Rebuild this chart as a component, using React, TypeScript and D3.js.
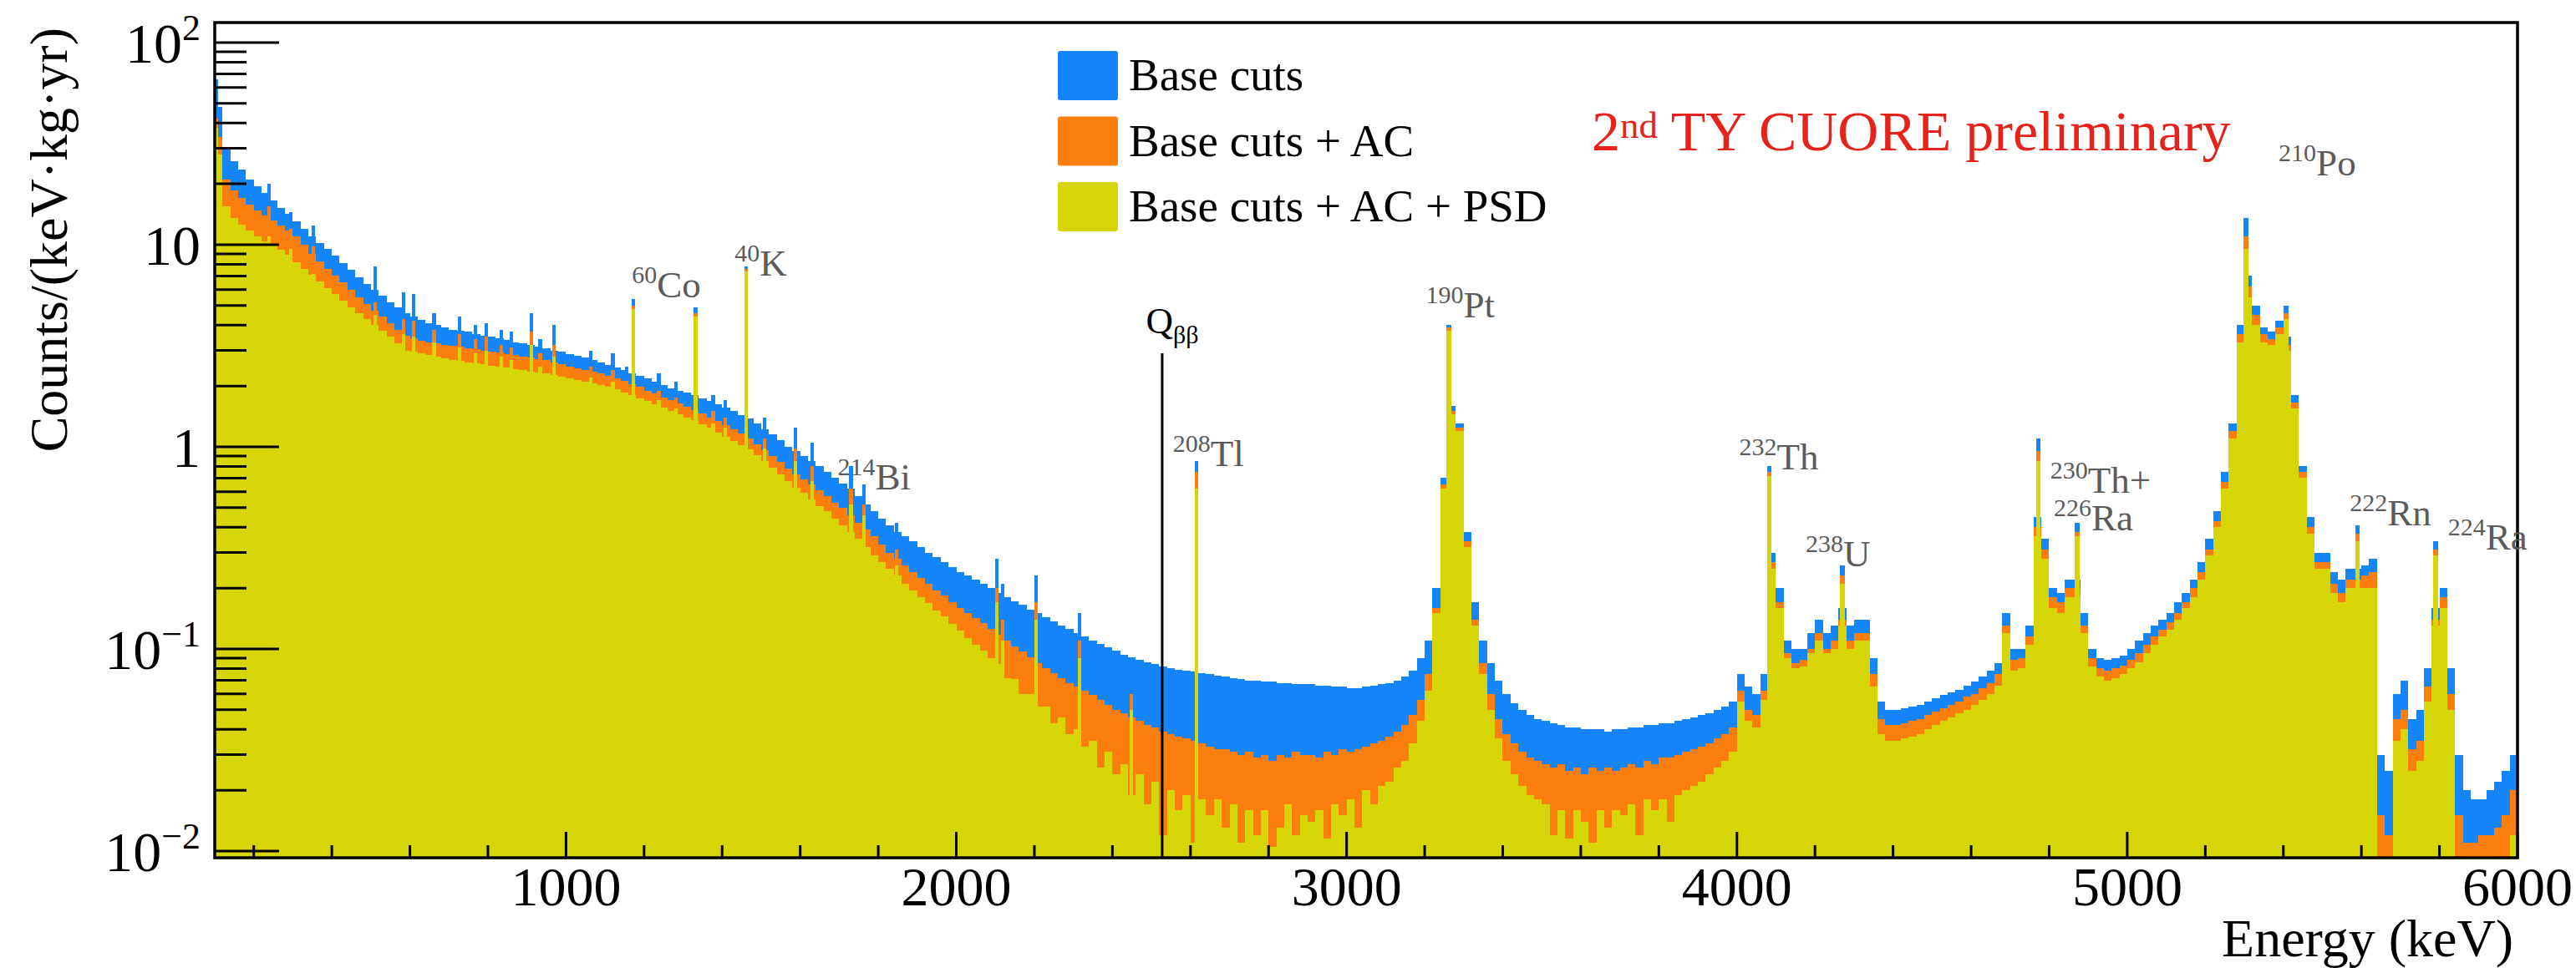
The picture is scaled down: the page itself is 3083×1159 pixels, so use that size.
import React, { useEffect } from 'react';
import * as d3 from 'd3';

const W = 3083;
const H = 1159;
const FONT = '"Liberation Serif", "Times New Roman", serif';

// Histogram binning (keV)
const BIN_LO = 100;
const BIN_WIDTH = 20;

// Counts/(keV kg yr), 20 keV bins from 100 keV to 6000 keV
const BASE_CUTS = [
  48, 30, 26, 23.5, 21, 19.5, 18, 16.5, 15.2, 14.2,
  13.0, 12.0, 11.0, 10.2, 9.5, 8.8, 8.1, 7.5, 6.9, 6.4,
  6.0, 5.6, 5.2, 4.9, 4.6, 4.4, 4.25, 4.1, 4.0, 3.9,
  3.8, 3.75, 3.7, 3.62, 3.55, 3.5, 3.45, 3.38, 3.3, 3.25,
  3.2, 3.14, 3.08, 3.0, 2.95, 2.88, 2.82, 2.76, 2.7, 2.62,
  2.55, 2.48, 2.4, 2.32, 2.25, 2.18, 2.1, 2.02, 1.95, 1.9,
  1.85, 1.8, 1.74, 1.68, 1.62, 1.56, 1.5, 1.44, 1.38, 1.3,
  1.22, 1.15, 1.08, 1.0, 0.95, 0.9, 0.85, 0.8, 0.75, 0.7,
  0.66, 0.62, 0.57, 0.52, 0.48, 0.44, 0.41, 0.38, 0.36, 0.34,
  0.32, 0.3, 0.285, 0.27, 0.255, 0.24, 0.23, 0.22, 0.21, 0.2,
  0.19, 0.18, 0.172, 0.165, 0.157, 0.15, 0.143, 0.137, 0.131, 0.126,
  0.12, 0.115, 0.11, 0.106, 0.102, 0.098, 0.094, 0.091, 0.088, 0.086,
  0.084, 0.082, 0.08, 0.079, 0.078, 0.077, 0.076, 0.075, 0.074, 0.073,
  0.072, 0.071, 0.07, 0.07, 0.069, 0.069, 0.068, 0.068, 0.067, 0.067,
  0.067, 0.066, 0.066, 0.065, 0.065, 0.064, 0.064, 0.065, 0.066, 0.067,
  0.068, 0.07, 0.073, 0.078, 0.09, 0.11, 0.2, 0.7, 1.6, 1.3,
  0.38, 0.17, 0.11, 0.085, 0.07, 0.06, 0.054, 0.05, 0.047, 0.045,
  0.044, 0.043, 0.042, 0.041, 0.041, 0.04, 0.04, 0.04, 0.039, 0.04,
  0.04, 0.041, 0.041, 0.042, 0.042, 0.043, 0.043, 0.044, 0.045, 0.046,
  0.047, 0.048, 0.05, 0.052, 0.055, 0.075, 0.065, 0.06, 0.075, 0.3,
  0.2, 0.11, 0.1, 0.1, 0.12, 0.14, 0.12, 0.13, 0.16, 0.13,
  0.14, 0.14, 0.09, 0.055, 0.05, 0.05, 0.051, 0.052, 0.053, 0.055,
  0.057, 0.059, 0.061, 0.063, 0.066, 0.069, 0.073, 0.078, 0.085, 0.15,
  0.1, 0.1, 0.13, 0.45, 0.35, 0.2, 0.19, 0.22, 0.22, 0.15,
  0.1, 0.09, 0.088, 0.09, 0.093, 0.1, 0.11, 0.12, 0.13, 0.14,
  0.15, 0.17, 0.19, 0.22, 0.27, 0.35, 0.48, 0.75, 1.3, 4.0,
  7.0, 5.0, 3.9, 3.7, 4.2, 3.5, 1.8, 0.8, 0.45, 0.3,
  0.3, 0.24, 0.22, 0.25, 0.25, 0.26, 0.28, 0.03, 0.025, 0.06,
  0.07, 0.045, 0.05, 0.08, 0.16, 0.2, 0.08, 0.03, 0.02, 0.018,
  0.018, 0.02, 0.022, 0.025, 0.03,
];

const BASE_CUTS_AC = [
  34, 21, 18.5, 17, 15.8, 14.8, 14, 13.2, 12.4, 11.7,
  11.0, 10.0, 9.0, 8.3, 7.6, 7.0, 6.5, 6.0, 5.5, 5.1,
  4.7, 4.4, 4.1, 3.8, 3.55, 3.45, 3.35, 3.3, 3.25, 3.2,
  3.15, 3.12, 3.08, 3.05, 3.0, 2.96, 2.92, 2.88, 2.84, 2.8,
  2.76, 2.72, 2.68, 2.62, 2.56, 2.5, 2.45, 2.4, 2.36, 2.3,
  2.24, 2.18, 2.12, 2.05, 1.98, 1.9, 1.83, 1.76, 1.7, 1.64,
  1.58, 1.52, 1.46, 1.4, 1.34, 1.28, 1.22, 1.16, 1.1, 1.03,
  0.96, 0.9, 0.84, 0.78, 0.73, 0.69, 0.65, 0.61, 0.57, 0.53,
  0.5, 0.46, 0.42, 0.39, 0.36, 0.33, 0.3, 0.28, 0.26, 0.24,
  0.225, 0.21, 0.195, 0.183, 0.17, 0.16, 0.15, 0.142, 0.134, 0.126,
  0.118, 0.11, 0.103, 0.097, 0.091, 0.085, 0.08, 0.076, 0.072, 0.068,
  0.065, 0.062, 0.059, 0.056, 0.053, 0.05, 0.048, 0.046, 0.044, 0.042,
  0.041, 0.039, 0.038, 0.037, 0.036, 0.035, 0.034, 0.033, 0.032, 0.032,
  0.031, 0.03, 0.031, 0.029, 0.03, 0.028, 0.03, 0.029, 0.031, 0.03,
  0.03, 0.029, 0.031, 0.03, 0.032, 0.031, 0.032, 0.033, 0.034, 0.035,
  0.037, 0.039, 0.042, 0.047, 0.056, 0.075, 0.16, 0.65, 1.5, 1.25,
  0.34, 0.14, 0.085, 0.06, 0.045, 0.038, 0.034, 0.031, 0.029, 0.028,
  0.027, 0.026, 0.027, 0.025, 0.026, 0.024, 0.026, 0.025, 0.026, 0.025,
  0.026, 0.027, 0.026, 0.028, 0.027, 0.029, 0.029, 0.03, 0.031, 0.032,
  0.033, 0.034, 0.036, 0.038, 0.041, 0.062, 0.05, 0.047, 0.062, 0.27,
  0.17, 0.095, 0.085, 0.088, 0.1, 0.12, 0.1, 0.11, 0.14, 0.11,
  0.12, 0.12, 0.075, 0.045, 0.042, 0.042, 0.043, 0.044, 0.045, 0.047,
  0.049, 0.051, 0.053, 0.055, 0.058, 0.06, 0.064, 0.068, 0.075, 0.13,
  0.088, 0.09, 0.115, 0.4, 0.31, 0.18, 0.17, 0.2, 0.2, 0.13,
  0.09, 0.08, 0.078, 0.08, 0.083, 0.088, 0.095, 0.105, 0.115, 0.125,
  0.135, 0.15, 0.17, 0.2, 0.24, 0.31, 0.43, 0.67, 1.2, 3.6,
  6.2, 4.5, 3.6, 3.4, 3.9, 3.2, 1.65, 0.75, 0.4, 0.27,
  0.27, 0.21, 0.19, 0.22, 0.22, 0.23, 0.24, 0.015, 0.012, 0.045,
  0.05, 0.032, 0.035, 0.065, 0.14, 0.18, 0.06, 0.015, 0.011, 0.011,
  0.012, 0.012, 0.013, 0.015, 0.02,
];

const BASE_CUTS_AC_PSD = [
  28, 15.5, 13.6, 12.6, 11.8, 11, 10.4, 9.9, 9.4, 8.9,
  8.2, 7.6, 7.1, 6.6, 6.1, 5.7, 5.3, 4.9, 4.6, 4.3,
  4.0, 3.75, 3.5, 3.25, 3.0, 2.95, 2.9, 2.85, 2.8, 2.75,
  2.7, 2.66, 2.62, 2.6, 2.56, 2.52, 2.5, 2.46, 2.43, 2.4,
  2.36, 2.33, 2.3, 2.26, 2.22, 2.18, 2.14, 2.1, 2.06, 2.02,
  1.98, 1.92, 1.86, 1.8, 1.74, 1.68, 1.62, 1.56, 1.5, 1.45,
  1.4, 1.35, 1.29, 1.24, 1.18, 1.12, 1.07, 1.02, 0.97, 0.91,
  0.85, 0.79, 0.73, 0.68, 0.63, 0.59, 0.55, 0.51, 0.48, 0.44,
  0.41, 0.38, 0.35, 0.32, 0.29, 0.27, 0.25, 0.23, 0.21, 0.195,
  0.18, 0.168, 0.155, 0.145, 0.133, 0.123, 0.113, 0.105, 0.098, 0.09,
  0.084, 0.072, 0.071, 0.06, 0.06, 0.052, 0.052, 0.043, 0.046, 0.038,
  0.04, 0.033, 0.035, 0.026, 0.031, 0.024, 0.027, 0.019, 0.024, 0.017,
  0.022, 0.012, 0.02, 0.016, 0.019, 0.011, 0.018, 0.015, 0.018, 0.013,
  0.017, 0.011, 0.016, 0.012, 0.016, 0.0105, 0.013, 0.017, 0.012, 0.015,
  0.014, 0.016, 0.0115, 0.017, 0.015, 0.018, 0.013, 0.02, 0.017, 0.021,
  0.022, 0.026, 0.028, 0.034, 0.044, 0.062, 0.15, 0.62, 1.45, 1.2,
  0.32, 0.13, 0.075, 0.05, 0.036, 0.028, 0.024, 0.021, 0.019, 0.018,
  0.017, 0.012, 0.016, 0.0115, 0.016, 0.014, 0.011, 0.016, 0.013, 0.016,
  0.015, 0.017, 0.012, 0.018, 0.016, 0.018, 0.014, 0.019, 0.02, 0.021,
  0.022, 0.024, 0.026, 0.028, 0.031, 0.055, 0.044, 0.041, 0.056, 0.25,
  0.16, 0.09, 0.08, 0.082, 0.095, 0.11, 0.095, 0.1, 0.13, 0.1,
  0.11, 0.11, 0.065, 0.038, 0.035, 0.035, 0.036, 0.037, 0.038, 0.04,
  0.042, 0.044, 0.046, 0.048, 0.05, 0.053, 0.056, 0.06, 0.066, 0.12,
  0.078, 0.08, 0.105, 0.36, 0.28, 0.16, 0.15, 0.18, 0.18, 0.12,
  0.082, 0.073, 0.07, 0.072, 0.075, 0.08, 0.086, 0.095, 0.105, 0.115,
  0.125, 0.14, 0.16, 0.18, 0.22, 0.29, 0.4, 0.62, 1.1, 3.3,
  5.5, 4.0, 3.3, 3.2, 3.6, 3.0, 1.55, 0.7, 0.37, 0.25,
  0.25, 0.19, 0.17, 0.2, 0.2, 0.2, 0.2, 0, 0.006, 0.035,
  0.04, 0.025, 0.028, 0.055, 0.13, 0.16, 0.05, 0, 0, 0,
  0, 0, 0, 0, 0.012,
];

// Narrow lines (gamma and alpha peaks): energy (keV), peak height per selection, width (keV)
const LINE_ENERGY = [104, 239, 295, 352, 511, 583, 609, 662, 727, 768, 795, 835, 860, 911, 934, 969, 1063, 1120, 1155, 1173, 1238, 1281, 1332, 1377, 1408, 1461, 1509, 1588, 1630, 1730, 1764, 1847, 2103, 2118, 2204, 2315, 2448, 2615, 3262, 4083, 4270, 4772, 4872, 5304, 5407, 5590, 5790];
const LINE_BASE = [66, 20, 14.5, 12.5, 7.8, 5.8, 5.7, 4.6, 4.4, 4.0, 4.1, 3.8, 3.7, 4.6, 3.4, 4.0, 3.0, 2.9, 2.5, 5.4, 2.3, 2.1, 4.9, 1.8, 1.7, 7.8, 1.4, 1.25, 1.05, 0.8, 0.65, 0.42, 0.28, 0.21, 0.23, 0.15, 0.085, 0.85, 4.0, 0.8, 0.26, 1.1, 0.42, 13.5, 5.0, 0.41, 0.34];
const LINE_AC = [42, 15.5, 12, 9.8, 5.2, 4.3, 4.2, 3.8, 3.6, 3.4, 3.5, 3.2, 3.1, 3.7, 2.9, 3.2, 2.5, 2.4, 2.1, 5.0, 1.9, 1.75, 4.6, 1.5, 1.4, 7.6, 1.1, 0.98, 0.8, 0.62, 0.52, 0.31, 0.2, 0.14, 0.17, 0.11, 0.06, 0.75, 3.9, 0.75, 0.23, 0.95, 0.38, 11, 4.6, 0.37, 0.31];
const LINE_PSD = [38, 11, 9.5, 7.2, 4.5, 3.6, 3.5, 3.3, 3.1, 2.9, 3.0, 2.8, 2.7, 3.2, 2.5, 2.8, 2.2, 2.1, 1.85, 4.8, 1.7, 1.55, 4.4, 1.3, 1.25, 7.4, 0.98, 0.85, 0.68, 0.52, 0.46, 0.26, 0.17, 0.11, 0.14, 0.09, 0.05, 0.62, 3.75, 0.72, 0.21, 0.85, 0.36, 9.5, 4.3, 0.34, 0.29];
const LINE_WIDTH = [8, 9, 9, 9, 9, 9, 9, 9, 9, 9, 9, 9, 9, 9, 9, 9, 9, 9, 9, 9, 9, 9, 9, 9, 9, 9, 9, 9, 9, 9, 9, 9, 9, 9, 9, 9, 9, 9, 12, 12, 12, 12, 12, 12, 12, 12, 12];

const SERIES_NAMES = ['Base cuts', 'Base cuts + AC', 'Base cuts + AC + PSD'];
const SERIES_COLORS = ['#1585fc', '#fc7e0c', '#d5d508'];

const X_DOMAIN = [100, 6000];
const Y_DOMAIN = [0.00927, 125.6];
const X_MAJOR = [1000, 2000, 3000, 4000, 5000, 6000];
const Y_MAJOR = [0.01, 0.1, 1, 10, 100];
const Y_MAJOR_BASE = ['10', '10', '1', '10', '10'];
const Y_MAJOR_EXP = ['\u22122', '\u22121', '', '', '2'];

const Q_BB = 2527.5;
const Q_BB_TOP = 2.9;

// Peak labels anchored in data coordinates (keV, counts)
const PEAK_LABEL_SUP = ['60', '40', '214', '208', '190', '232', '238', '230', '226', '210', '222', '224'];
const PEAK_LABEL_TEXT = ['Co', 'K', 'Bi', 'Tl', 'Pt', 'Th', 'U', 'Th+', 'Ra', 'Po', 'Rn', 'Ra'];
const PEAK_LABEL_E = [1169, 1432, 1696, 2555, 3203, 4006, 4176, 4803, 4812, 5388, 5570, 5822];
const PEAK_LABEL_V = [5.5, 7.0, 0.615, 0.8, 4.37, 0.77, 0.256, 0.593, 0.386, 22, 0.41, 0.31];

export default function App() {
  useEffect(() => {
    document.body.style.margin = '0';
  }, []);

  const left = 257, right = 3013, top = 27, bottom = 1027;
  const x = d3.scaleLinear().domain(X_DOMAIN).range([left, right]);
  const y = d3.scaleLog().domain(Y_DOMAIN).range([bottom, top]);
  const yv = (v: number) => (v > 0 ? y(v) : bottom + 20);

  const histPath = (vals: number[]) => {
    let d = `M${x(BIN_LO)},${bottom + 20}`;
    vals.forEach((v, i) => {
      const x0 = x(BIN_LO + i * BIN_WIDTH);
      const x1 = x(BIN_LO + (i + 1) * BIN_WIDTH);
      const yy = yv(v);
      d += `L${x0},${yy}L${x1},${yy}`;
    });
    d += `L${x(BIN_LO + vals.length * BIN_WIDTH)},${bottom + 20}Z`;
    return d;
  };

  const seriesVals = [BASE_CUTS, BASE_CUTS_AC, BASE_CUTS_AC_PSD];
  const lineVals = [LINE_BASE, LINE_AC, LINE_PSD];

  const yMinor: number[] = [];
  [0.001, 0.01, 0.1, 1, 10, 100].forEach((dec) => {
    for (let k = 2; k <= 9; k++) {
      const v = dec * k;
      if (v > Y_DOMAIN[0] && v < Y_DOMAIN[1]) yMinor.push(v);
    }
  });
  const xMinor = d3.range(200, 6000, 200).filter((v) => v % 1000 !== 0);

  const legendTop = 61;
  const legendStep = 78.5;

  return (
    <svg width={W} height={H} style={{ position: 'absolute', left: 0, top: 0, background: '#fff' }} fontFamily={FONT}>
      <defs>
        <clipPath id="plotclip">
          <rect x={left} y={top} width={right - left} height={bottom - top} />
        </clipPath>
      </defs>
      <rect x={0} y={0} width={W} height={H} fill="#fff" />
      <g clipPath="url(#plotclip)" shapeRendering="crispEdges">
        {seriesVals.map((vals, s) => (
          <g key={s} fill={SERIES_COLORS[s]}>
            <path d={histPath(vals)} />
            {LINE_ENERGY.map((e, i) => {
              const x0 = x(e - LINE_WIDTH[i] / 2);
              const x1 = x(e + LINE_WIDTH[i] / 2);
              const yy = yv(lineVals[s][i]);
              return <rect key={i} x={x0} y={yy} width={x1 - x0} height={bottom + 20 - yy} />;
            })}
          </g>
        ))}
      </g>

      {/* Q_bb line */}
      <line x1={x(Q_BB)} x2={x(Q_BB)} y1={bottom} y2={y(Q_BB_TOP)} stroke="#000" strokeWidth={3} />

      {/* frame */}
      <rect x={left} y={top} width={right - left} height={bottom - top} fill="none" stroke="#000" strokeWidth={3.5} />

      {/* y ticks */}
      {Y_MAJOR.map((v, i) => (
        <line key={'ym' + i} x1={left} x2={left + 77} y1={y(v)} y2={y(v)} stroke="#000" strokeWidth={3} />
      ))}
      {yMinor.map((v, i) => (
        <line key={'yn' + i} x1={left} x2={left + 38} y1={y(v)} y2={y(v)} stroke="#000" strokeWidth={3} />
      ))}
      {/* x ticks */}
      {X_MAJOR.map((v, i) => (
        <line key={'xm' + i} x1={x(v)} x2={x(v)} y1={bottom} y2={bottom - 31} stroke="#000" strokeWidth={3} />
      ))}
      {xMinor.map((v, i) => (
        <line key={'xn' + i} x1={x(v)} x2={x(v)} y1={bottom} y2={bottom - 15} stroke="#000" strokeWidth={3} />
      ))}

      {/* y tick labels */}
      {Y_MAJOR.map((v, i) => (
        <text key={'yl' + i} x={240} y={y(v) + 24} textAnchor="end" fontSize={68} fill="#000">
          {Y_MAJOR_BASE[i]}
          {Y_MAJOR_EXP[i] !== '' && (
            <tspan fontSize={44} dy={-27}>{Y_MAJOR_EXP[i]}</tspan>
          )}
        </text>
      ))}
      {/* x tick labels */}
      {X_MAJOR.map((v, i) => (
        <text key={'xl' + i} x={x(v)} y={1084} textAnchor="middle" fontSize={66} fill="#000">
          {String(v)}
        </text>
      ))}

      {/* axis titles */}
      <text x={3008} y={1145} textAnchor="end" fontSize={64} fill="#000">Energy (keV)</text>
      <text transform="translate(80,33) rotate(-90)" textAnchor="end" fontSize={64} fill="#000">
        Counts/(keV·kg·yr)
      </text>

      {/* legend */}
      {SERIES_NAMES.map((name, i) => (
        <g key={'lg' + i}>
          <rect x={1266} y={legendTop + i * legendStep} width={72} height={59} rx={3} fill={SERIES_COLORS[i]} />
          <text x={1351} y={legendTop + 47 + i * legendStep} fontSize={55} fill="#000">{name}</text>
        </g>
      ))}

      {/* preliminary tag */}
      <text x={1905} y={180} fontSize={68} fill="#e6231b">
        2<tspan fontSize={45} dy={-15}>nd</tspan>
        <tspan dy={15}> TY CUORE preliminary</tspan>
      </text>

      {/* Q_bb label */}
      <text x={x(2486)} y={y(3.65)} fontSize={45} fill="#000">
        Q<tspan fontSize={30} dy={12}>ββ</tspan>
      </text>

      {/* peak labels */}
      {PEAK_LABEL_TEXT.map((t, i) => (
        <text key={'pl' + i} x={x(PEAK_LABEL_E[i])} y={y(PEAK_LABEL_V[i])} fontSize={45} fill="#5b5b5b">
          <tspan fontSize={30} dy={-17}>{PEAK_LABEL_SUP[i]}</tspan>
          <tspan dy={17}>{t}</tspan>
        </text>
      ))}
    </svg>
  );
}
